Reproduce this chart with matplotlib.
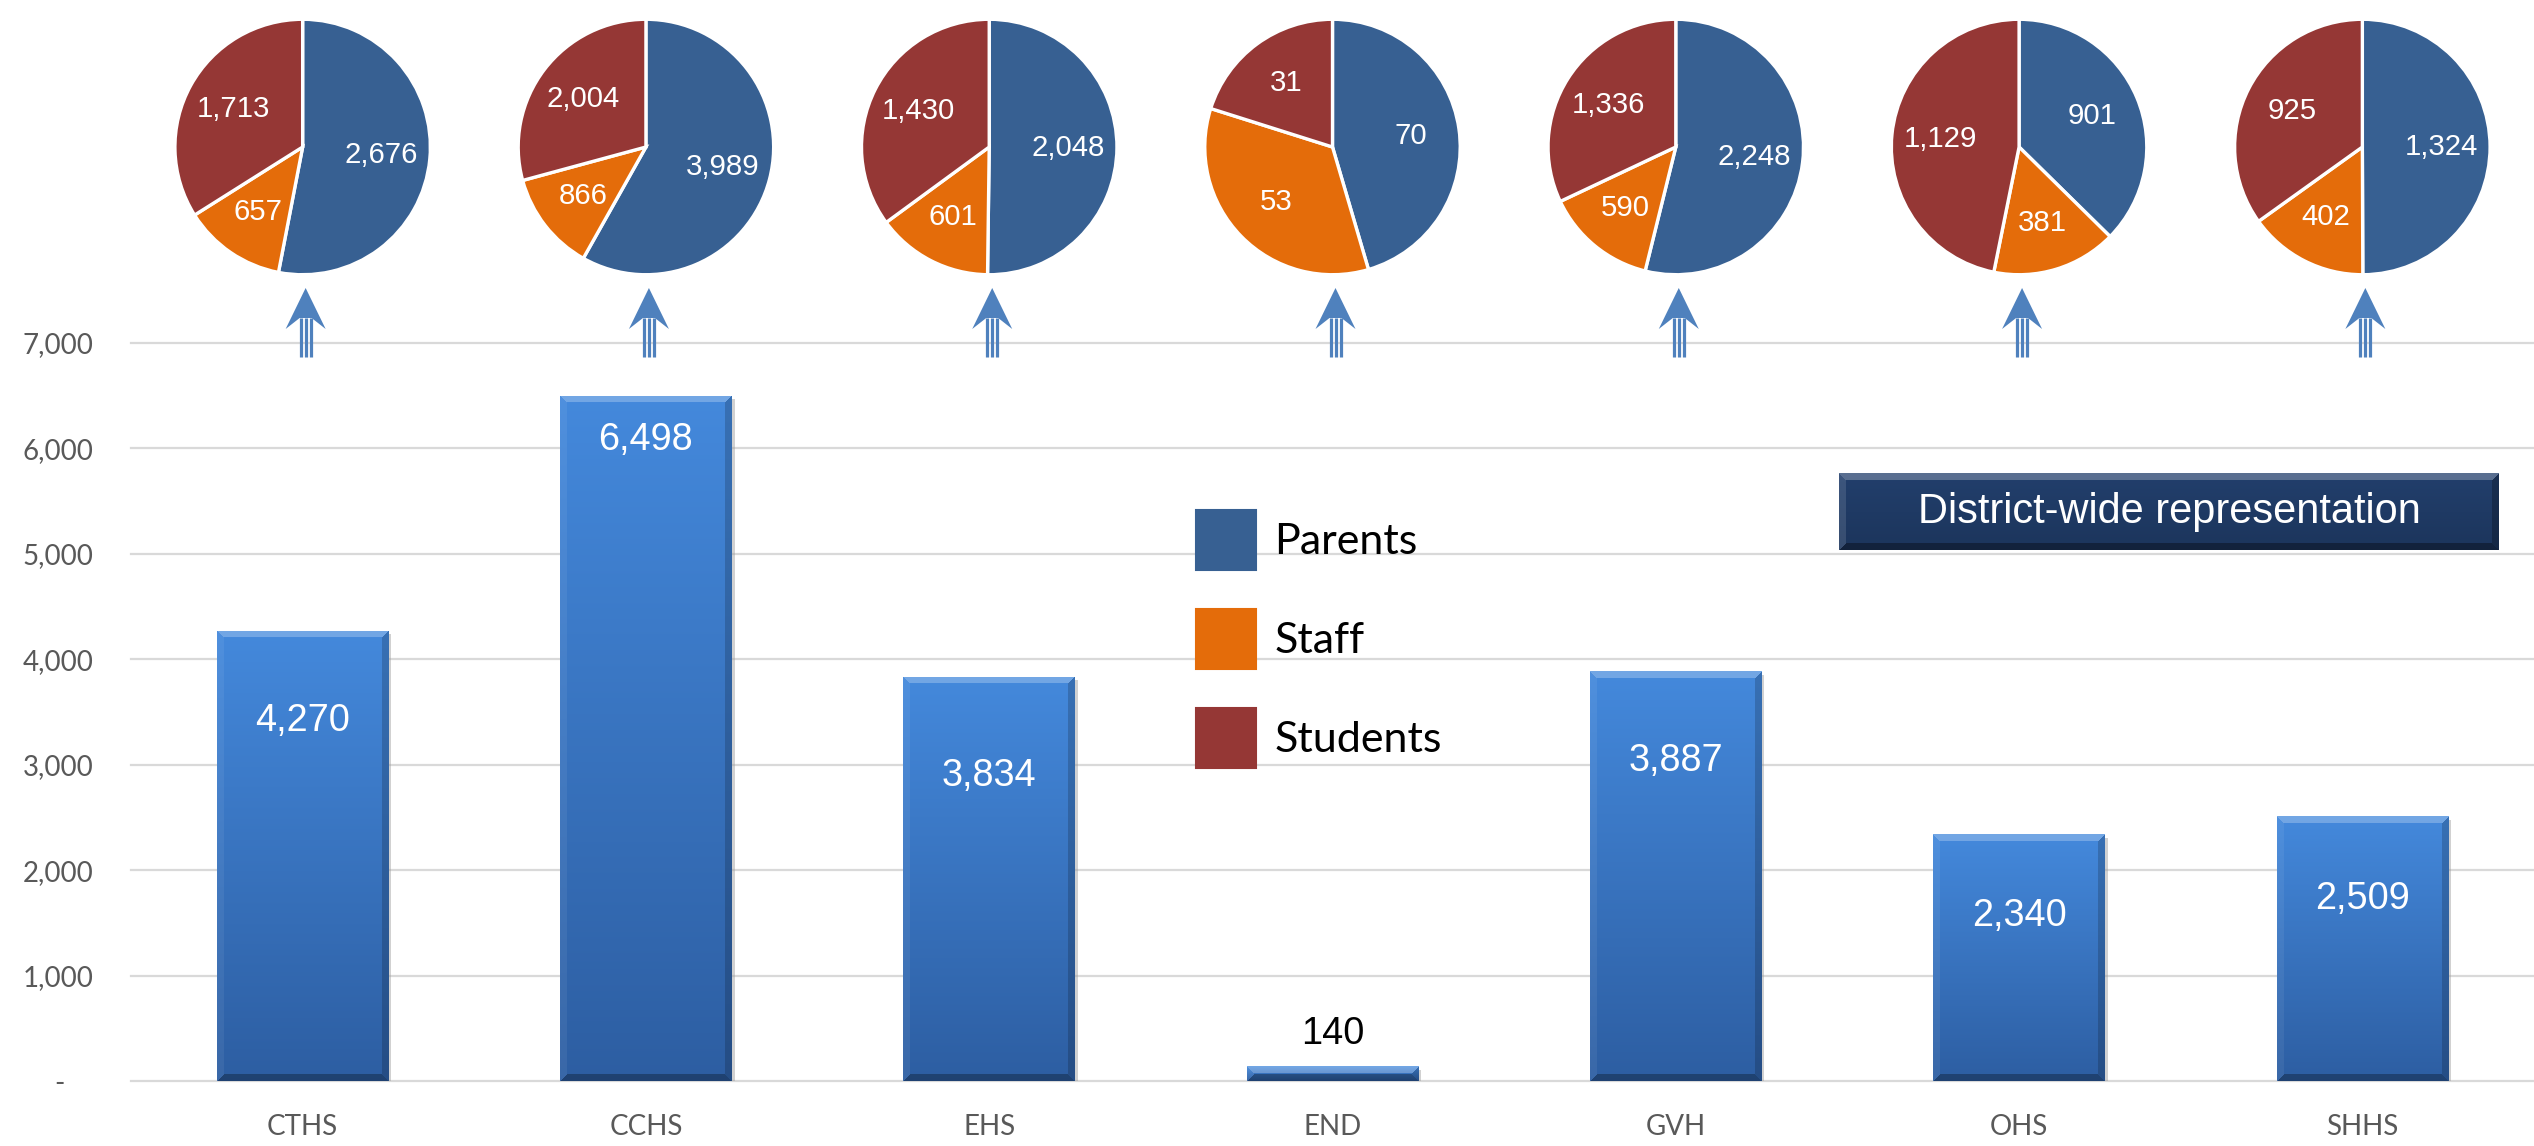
import numpy as np
import matplotlib
matplotlib.use("Agg")
import matplotlib.pyplot as plt
import matplotlib.patheffects as pe
from matplotlib import font_manager
from matplotlib.font_manager import FontProperties
from matplotlib.patches import Patch, Polygon, Rectangle
from matplotlib.lines import Line2D

# ---- data ----
schools = ["CTHS", "CCHS", "EHS", "END", "GVH", "OHS", "SHHS"]
totals = [4270, 6498, 3834, 140, 3887, 2340, 2509]
parents = [2676, 3989, 2048, 70, 2248, 901, 1324]
staff = [657, 866, 601, 53, 590, 381, 402]
students = [1713, 2004, 1430, 31, 1336, 1129, 925]
groups = ["Parents", "Staff", "Students"]
yticks = [0, 1000, 2000, 3000, 4000, 5000, 6000, 7000]
badge_text = "District-wide representation"

# ---- style ----
W, H, DPI = 2534, 1146, 100
PIE_COLORS = ["#376092", "#E46C0A", "#953735"]
ARROW = "#4F81BD"
GRID = "#D9D9D9"
TICK = "#595959"
# px below bar top for the value label (negative = above the bar)
label_off = [90, 44, 99, -32, 90, 82, 83]


def have_font(name):
    return any(f.name == name for f in font_manager.fontManager.ttflist)


if have_font("Liberation Sans Narrow"):
    NARROW, NSCALE = "Liberation Sans Narrow", 1.0
else:
    NARROW, NSCALE = "Liberation Sans", 0.88
SANS = "Lato" if have_font("Lato") else "DejaVu Sans"


def bevel_image(nx, ny, top, bot, bevel, amounts):
    nx = max(int(round(nx)), 2)
    ny = max(int(round(ny)), 2)
    top = np.array(top, float) / 255
    bot = np.array(bot, float) / 255
    v = np.linspace(0, 1, ny)[:, None, None]
    img = np.repeat(top * (1 - v) + bot * v, nx, axis=1)
    xx, yy = np.meshgrid(np.arange(nx), np.arange(ny))
    d = np.stack([yy, xx, nx - 1 - xx, ny - 1 - yy])  # top, left, right, bottom
    which = d.argmin(axis=0)
    near = d.min(axis=0) < bevel
    for k, a in enumerate(amounts):
        m = near & (which == k)
        if a >= 0:
            img[m] = img[m] * (1 - a) + a
        else:
            img[m] = img[m] * (1 + a)
    return img


fig = plt.figure(figsize=(W / DPI, H / DPI), dpi=DPI)
ax = fig.add_axes([131 / W, 65 / H, 1 - 131 / W, (1081 - 343) / H])

x = np.arange(len(schools))
bars = ax.bar(x, totals, width=0.5, color="#3C78C4", zorder=2)
ax.set_xlim(-0.5, len(schools) - 0.5)
ax.set_ylim(0, 7000)

# gradient / bevel fill for every bar
for b in bars:
    b.set_path_effects([pe.SimplePatchShadow(offset=(2, -2.5), shadow_rgbFace="#9A9A9A", alpha=0.45),
                        pe.Normal()])
    x0, y0 = b.get_x(), b.get_y()
    x1, y1 = x0 + b.get_width(), y0 + b.get_height()
    p0 = ax.transData.transform((x0, y0))
    p1 = ax.transData.transform((x1, y1))
    img = bevel_image(p1[0] - p0[0], p1[1] - p0[1], (68, 137, 220), (45, 94, 162), 7,
                      [0.25, 0.06, -0.18, -0.3])
    im = ax.imshow(img, extent=(x0, x1, y0, y1), aspect="auto", origin="upper",
                   interpolation="bilinear", zorder=3)
    im.set_clip_path(b)
ax.set_xlim(-0.5, len(schools) - 0.5)
ax.set_ylim(0, 7000)
ax.set_aspect("auto")

for i, (v, off) in enumerate(zip(totals, label_off)):
    inside = off > 0
    ax.annotate(f"{v:,}", xy=(i, v), xytext=(0, -off * 0.72), textcoords="offset points",
                ha="center", va="center", color="white" if inside else "black",
                fontsize=31 * NSCALE, family=NARROW, zorder=5)

ax.set_yticks(yticks)
ax.set_yticklabels(["-    " if t == 0 else f"{t:,}" for t in yticks])
ax.set_xticks(x)
ax.set_xticklabels(schools)
for lab in ax.get_xticklabels() + ax.get_yticklabels():
    lab.set_family(SANS)
    lab.set_fontsize(20)
    lab.set_color(TICK)
ax.tick_params(axis="y", length=0, pad=27)
ax.tick_params(axis="x", length=0, pad=24)
ax.yaxis.grid(True, color=GRID, linewidth=1.6)
ax.set_axisbelow(True)
for gl in ax.get_ygridlines():
    gl.set_clip_on(False)
for s in ax.spines.values():
    s.set_visible(False)

# pies + arrows above each bar
PIE_D = 258
for i in range(len(schools)):
    cx = ax.transData.transform((i, 0))[0]
    pax = fig.add_axes([(cx - PIE_D / 2) / W, 1 - (147 + PIE_D / 2) / H, PIE_D / W, PIE_D / H])
    vals = [parents[i], staff[i], students[i]]
    wedges, texts, autos = pax.pie(vals, colors=PIE_COLORS, startangle=90, counterclock=False,
                                   autopct="%d", pctdistance=0.62,
                                   wedgeprops=dict(edgecolor="white", linewidth=2.4))
    for t, v in zip(autos, vals):
        t.set_text(f"{v:,}")
        t.set_color("white")
        t.set_fontsize(24 * NSCALE)
        t.set_family(NARROW)
    pax.set_xlim(-1.01, 1.01)
    pax.set_ylim(-1.01, 1.01)
    pax.axis("off")

    ax_x = cx + 3
    head = [(ax_x, 288), (ax_x + 20, 329), (ax_x + 6, 318), (ax_x - 6, 318), (ax_x - 20, 329)]
    fig.add_artist(Polygon([(px / W, 1 - py / H) for px, py in head], closed=True,
                           facecolor=ARROW, edgecolor="none", transform=fig.transFigure))
    for dx in (-5, 0, 5):
        fig.add_artist(Line2D([(ax_x + dx) / W] * 2, [1 - 318 / H, 1 - 357 / H],
                              color=ARROW, linewidth=2.3, transform=fig.transFigure,
                              solid_capstyle="butt"))

# legend
handles = [Patch(facecolor=c, edgecolor=c, label=g, joinstyle="round", linewidth=1.5)
           for c, g in zip(PIE_COLORS, groups)]
fig.legend(handles=handles, loc="upper left", bbox_to_anchor=(1196 / W, 1 - 510 / H),
           frameon=False, prop=FontProperties(family=SANS, size=31),
           handlelength=1.4, handleheight=1.77, labelspacing=0.9, handletextpad=0.42,
           borderpad=0, borderaxespad=0)

# badge (shadow drawn beneath the badge axes)
bx0, by0, bx1, by1 = 1839, 473, 2499, 550
for k, a in ((7, 0.08), (5, 0.12), (3, 0.18)):
    fig.add_artist(Rectangle(((bx0 + k * 0.4) / W, 1 - (by1 + k) / H), (bx1 - bx0) / W, (by1 - by0) / H,
                             facecolor="#7F7F7F", alpha=a, edgecolor="none",
                             transform=fig.transFigure, zorder=-1))
bax = fig.add_axes([bx0 / W, 1 - by1 / H, (bx1 - bx0) / W, (by1 - by0) / H], zorder=3)
bax.imshow(bevel_image(bx1 - bx0, by1 - by0, (34, 63, 108), (28, 53, 92), 7,
                       [0.25, 0.12, -0.25, -0.35]),
           extent=(0, 1, 0, 1), aspect="auto", origin="upper", interpolation="bilinear")
bax.set_xlim(0, 1)
bax.set_ylim(0, 1)
bax.axis("off")
bax.text(0.5, 0.5, badge_text, ha="center", va="center", color="white",
         fontsize=34 * NSCALE, family=NARROW)

fig.savefig("out.png", dpi=DPI)
